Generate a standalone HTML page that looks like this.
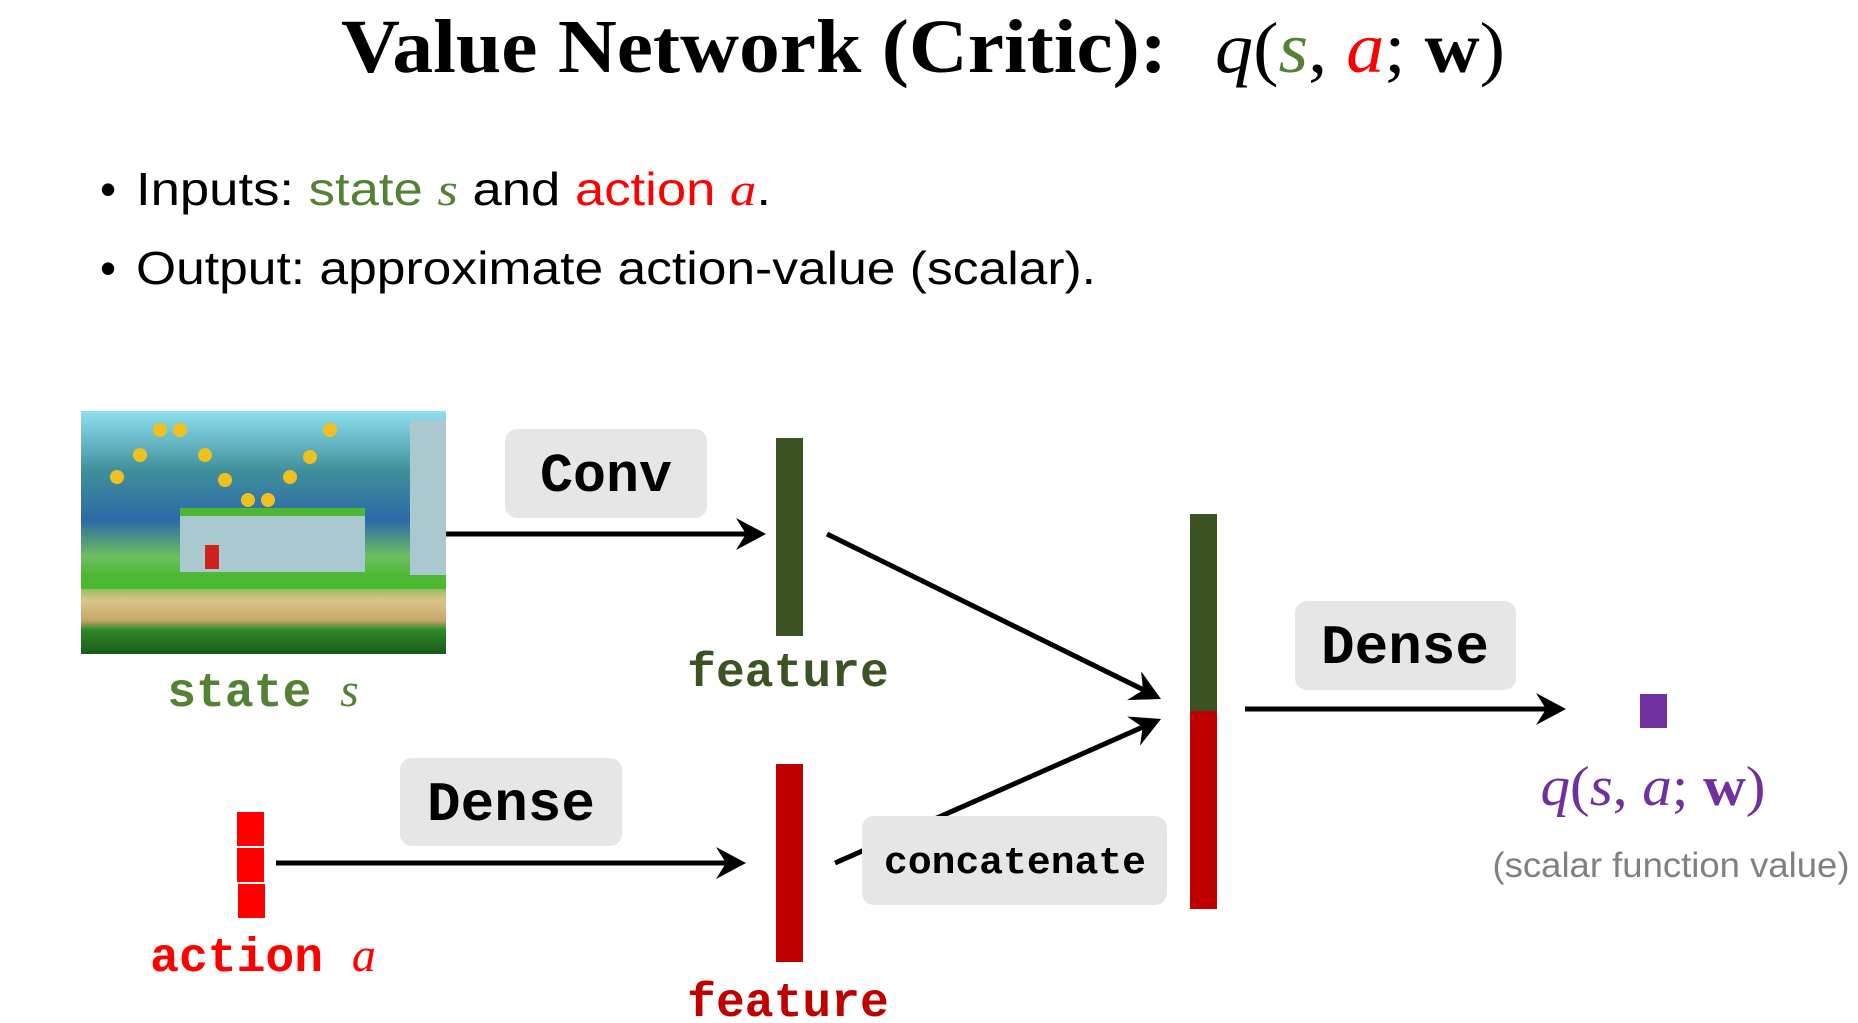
<!DOCTYPE html>
<html><head><meta charset="utf-8"><style>
html,body{margin:0;padding:0;background:#fff;}
svg{display:block;}
</style></head><body>
<svg width="1858" height="1023" viewBox="0 0 1858 1023" xmlns="http://www.w3.org/2000/svg">
<defs>
<linearGradient id="sky" x1="0" y1="0" x2="0" y2="1">
<stop offset="0" stop-color="#8fe0f0"/><stop offset="0.25" stop-color="#3f8f9a"/><stop offset="0.45" stop-color="#2c6aa8"/><stop offset="0.6" stop-color="#6fbf60"/><stop offset="0.68" stop-color="#4cb832"/><stop offset="0.78" stop-color="#d9c48a"/><stop offset="0.86" stop-color="#c8a86a"/><stop offset="0.9" stop-color="#2f8a2a"/><stop offset="1" stop-color="#1a5a1a"/>
</linearGradient>
<path id="head" d="M0 0 L-30 -16 L-20 0 L-30 16 Z"/>
</defs>
<!-- Title -->
<text x="341" y="72" font-family="Liberation Serif, serif" font-weight="bold" font-size="76" textLength="826" lengthAdjust="spacingAndGlyphs">Value Network (Critic):</text>
<text x="1215" y="72" font-family="Liberation Serif, serif" font-size="72" font-style="italic" textLength="290" lengthAdjust="spacingAndGlyphs"><tspan>q</tspan><tspan font-style="normal">(</tspan><tspan fill="#548235">s</tspan><tspan font-style="normal">, </tspan><tspan fill="#ff0000">a</tspan><tspan font-style="normal">; </tspan><tspan font-style="normal" font-weight="bold">w</tspan><tspan font-style="normal">)</tspan></text>
<!-- bullets -->
<text x="100" y="205" font-family="Liberation Sans, sans-serif" font-size="46">•</text>
<text x="136" y="205" font-family="Liberation Sans, sans-serif" font-size="46" textLength="635" lengthAdjust="spacingAndGlyphs">Inputs: <tspan fill="#548235">state <tspan font-family="Liberation Serif, serif" font-style="italic">s</tspan></tspan> and <tspan fill="#ff0000">action <tspan font-family="Liberation Serif, serif" font-style="italic">a</tspan></tspan>.</text>
<text x="100" y="284" font-family="Liberation Sans, sans-serif" font-size="46">•</text>
<text x="136" y="284" font-family="Liberation Sans, sans-serif" font-size="46" textLength="960" lengthAdjust="spacingAndGlyphs">Output: approximate action-value (scalar).</text>
<!-- image -->
<rect x="81" y="411" width="365" height="243" fill="url(#sky)"/>
<rect x="180" y="512" width="185" height="60" fill="#a9c8cf"/>
<rect x="180" y="508" width="185" height="8" fill="#4cb832"/>
<rect x="410" y="420" width="36" height="155" fill="#a9c8cf"/>
<rect x="81" y="575" width="365" height="14" fill="#4cb832"/>
<g fill="#f0c020"><circle cx="160" cy="430" r="7"/><circle cx="180" cy="430" r="7"/><circle cx="140" cy="455" r="7"/><circle cx="205" cy="455" r="7"/><circle cx="117" cy="477" r="7"/><circle cx="225" cy="480" r="7"/><circle cx="290" cy="477" r="7"/><circle cx="310" cy="457" r="7"/><circle cx="330" cy="430" r="7"/><circle cx="248" cy="500" r="7"/><circle cx="268" cy="500" r="7"/></g>
<rect x="205" y="545" width="14" height="24" fill="#d02020"/>
<!-- Conv -->
<rect x="505" y="429" width="202" height="89" rx="12" fill="#e6e6e6"/>
<text x="606" y="491" text-anchor="middle" font-family="Liberation Mono, monospace" font-weight="bold" font-size="55">Conv</text>
<line x1="446" y1="534" x2="755" y2="534" stroke="#000" stroke-width="5"/>
<use href="#head" transform="translate(766,534)"/>
<rect x="776" y="438" width="27" height="198" fill="#3b5323"/>
<text x="788" y="686" text-anchor="middle" font-family="Liberation Mono, monospace" font-weight="bold" font-size="48" fill="#3b5323">feature</text>
<text x="263" y="706" text-anchor="middle" font-family="Liberation Mono, monospace" font-weight="bold" font-size="48" fill="#548235">state <tspan font-family="Liberation Serif, serif" font-style="italic" font-weight="normal">s</tspan></text>
<!-- diagonals -->
<line x1="827" y1="534" x2="1152" y2="694" stroke="#000" stroke-width="5"/>
<use href="#head" transform="translate(1161,699) rotate(26.2)"/>
<line x1="835" y1="863" x2="1152" y2="723" stroke="#000" stroke-width="5"/>
<use href="#head" transform="translate(1161,719) rotate(-23.8)"/>
<!-- concat bar -->
<rect x="1190" y="514" width="27" height="197" fill="#3b5323"/>
<rect x="1190" y="711" width="27" height="198" fill="#c00000"/>
<!-- concatenate box -->
<rect x="862" y="816" width="305" height="89" rx="12" fill="#e6e6e6"/>
<text x="1015" y="873" text-anchor="middle" font-family="Liberation Mono, monospace" font-weight="bold" font-size="38" textLength="262" lengthAdjust="spacingAndGlyphs">concatenate</text>
<!-- right dense -->
<rect x="1295" y="601" width="221" height="89" rx="12" fill="#e6e6e6"/>
<text x="1405" y="663" text-anchor="middle" font-family="Liberation Mono, monospace" font-weight="bold" font-size="56">Dense</text>
<line x1="1245" y1="709" x2="1555" y2="709" stroke="#000" stroke-width="5"/>
<use href="#head" transform="translate(1566,709)"/>
<rect x="1640" y="694" width="27" height="34" fill="#7030a0"/>
<text x="1653" y="805" text-anchor="middle" font-family="Liberation Serif, serif" font-size="56" font-style="italic" fill="#7030a0" textLength="225" lengthAdjust="spacingAndGlyphs">q<tspan font-style="normal">(</tspan>s<tspan font-style="normal">, </tspan>a<tspan font-style="normal">; </tspan><tspan font-style="normal" font-weight="bold">w</tspan><tspan font-style="normal">)</tspan></text>
<text x="1671" y="877" text-anchor="middle" font-family="Liberation Sans, sans-serif" font-size="35" fill="#808080" textLength="357" lengthAdjust="spacingAndGlyphs">(scalar function value)</text>
<!-- action -->
<rect x="237" y="812" width="27" height="34" fill="#ff0000"/>
<rect x="237" y="848" width="27" height="34" fill="#ff0000"/>
<rect x="238" y="884" width="27" height="34" fill="#ff0000"/>
<rect x="400" y="758" width="222" height="88" rx="12" fill="#e6e6e6"/>
<text x="511" y="820" text-anchor="middle" font-family="Liberation Mono, monospace" font-weight="bold" font-size="56">Dense</text>
<line x1="276" y1="863" x2="735" y2="863" stroke="#000" stroke-width="5"/>
<use href="#head" transform="translate(746,863)"/>
<rect x="776" y="764" width="27" height="198" fill="#c00000"/>
<text x="788" y="1016" text-anchor="middle" font-family="Liberation Mono, monospace" font-weight="bold" font-size="48" fill="#c00000">feature</text>
<text x="263" y="971" text-anchor="middle" font-family="Liberation Mono, monospace" font-weight="bold" font-size="48" fill="#ff0000">action <tspan font-family="Liberation Serif, serif" font-style="italic" font-weight="normal">a</tspan></text>
</svg>
</body></html>
